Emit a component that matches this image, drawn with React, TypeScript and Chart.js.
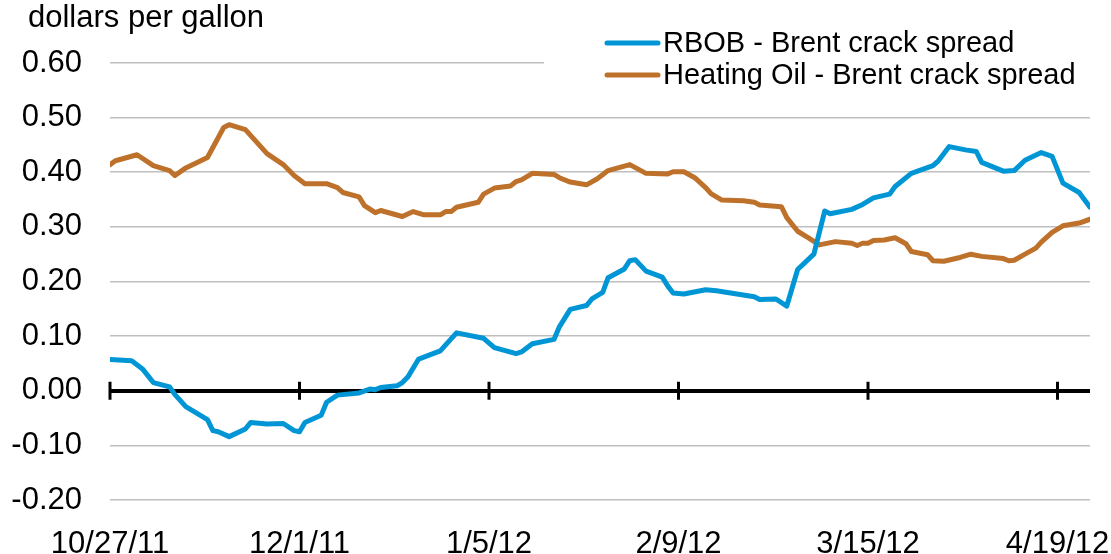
import React, { useEffect, useRef } from "react";
import { Chart, registerables } from "chart.js";

Chart.register(...registerables);

const FONT = "'Liberation Sans', Arial, Helvetica, sans-serif";

const yAxisTitle = "dollars per gallon";
const seriesNames = ["RBOB - Brent crack spread", "Heating Oil - Brent crack spread"];
const seriesColors = ["#0096D6", "#BE712B"];

// x positions are days since 10/27/11
const tickDays = [0, 35, 70, 105, 140, 175];
const tickLabels = ["10/27/11", "12/1/11", "1/5/12", "2/9/12", "3/15/12", "4/19/12"];
const lastDay = 181;

const rbobDays = [0, 4, 6, 8, 11, 12, 14, 18, 19, 20, 22, 25, 26, 29, 32, 34, 35, 36, 39, 40, 42, 46, 48, 49, 50, 53, 54, 55, 57, 61, 64, 69, 71, 75, 76, 78, 82, 83, 85, 88, 89, 91, 92, 95, 96, 97, 99, 102, 103, 104, 106, 110, 112, 119, 120, 123, 125, 127, 130, 132, 133, 137, 139, 141, 144, 145, 148, 152, 153, 155, 158, 160, 161, 165, 167, 169, 172, 174, 176, 179, 181];
const rbobValues = [0.057, 0.055, 0.040, 0.015, 0.007, -0.007, -0.029, -0.053, -0.073, -0.075, -0.084, -0.070, -0.058, -0.061, -0.060, -0.073, -0.075, -0.058, -0.045, -0.021, -0.008, -0.004, 0.003, 0.002, 0.006, 0.009, 0.015, 0.025, 0.058, 0.073, 0.106, 0.096, 0.079, 0.068, 0.071, 0.086, 0.094, 0.117, 0.149, 0.156, 0.168, 0.180, 0.207, 0.223, 0.238, 0.240, 0.219, 0.208, 0.192, 0.179, 0.177, 0.185, 0.183, 0.172, 0.167, 0.168, 0.155, 0.222, 0.250, 0.329, 0.324, 0.332, 0.341, 0.353, 0.360, 0.374, 0.398, 0.412, 0.421, 0.447, 0.441, 0.438, 0.418, 0.402, 0.403, 0.422, 0.436, 0.429, 0.380, 0.363, 0.336];

const heatDays = [0, 1, 5, 8, 11, 12, 14, 18, 21, 22, 25, 29, 32, 34, 36, 40, 42, 43, 46, 47, 49, 50, 54, 56, 58, 61, 62, 63, 64, 68, 69, 71, 74, 75, 76, 78, 82, 83, 85, 88, 90, 92, 96, 99, 103, 104, 106, 108, 110, 111, 113, 117, 119, 120, 124, 125, 127, 129, 131, 134, 137, 138, 139, 140, 141, 143, 145, 147, 148, 151, 152, 154, 157, 159, 161, 165, 166, 167, 169, 171, 172, 174, 176, 179, 181];
const heatValues = [0.414, 0.421, 0.432, 0.412, 0.403, 0.394, 0.408, 0.427, 0.482, 0.487, 0.478, 0.434, 0.414, 0.394, 0.379, 0.379, 0.372, 0.363, 0.355, 0.339, 0.326, 0.330, 0.319, 0.328, 0.322, 0.322, 0.328, 0.328, 0.336, 0.345, 0.360, 0.371, 0.375, 0.383, 0.386, 0.398, 0.396, 0.390, 0.382, 0.377, 0.388, 0.403, 0.414, 0.398, 0.397, 0.401, 0.401, 0.390, 0.372, 0.361, 0.349, 0.348, 0.345, 0.340, 0.337, 0.317, 0.292, 0.280, 0.267, 0.273, 0.270, 0.266, 0.270, 0.270, 0.275, 0.276, 0.280, 0.269, 0.255, 0.249, 0.238, 0.237, 0.244, 0.250, 0.246, 0.242, 0.238, 0.239, 0.250, 0.261, 0.272, 0.290, 0.302, 0.307, 0.314];

const yMin = -0.2;
const yMax = 0.6;
const yStep = 0.1;

const decorPlugin = {
  id: "decor",
  beforeDatasetsDraw(chart: any) {
    const { ctx, scales } = chart;
    const x = scales.x;
    const y = scales.y;
    const y0 = y.getPixelForValue(0);
    ctx.save();
    ctx.strokeStyle = "#000";
    ctx.lineWidth = 3;
    tickDays.forEach((d) => {
      const px = x.getPixelForValue(d);
      ctx.beginPath();
      ctx.moveTo(px, y0 - 9);
      ctx.lineTo(px, y0 + 9);
      ctx.stroke();
    });
    ctx.restore();
  },
  afterDraw(chart: any) {
    const { ctx } = chart;
    ctx.save();
    ctx.fillStyle = "#000";
    ctx.font = `31px ${FONT}`;
    ctx.textAlign = "left";
    ctx.textBaseline = "middle";
    ctx.fillText(yAxisTitle, 28, 18);

    ctx.fillStyle = "#fff";
    ctx.fillRect(544, 26, 567, 64);
    ctx.font = `29px ${FONT}`;
    seriesNames.forEach((name, i) => {
      const ly = 43 + i * 32;
      ctx.strokeStyle = seriesColors[i];
      ctx.lineWidth = 5;
      ctx.lineCap = "round";
      ctx.beginPath();
      ctx.moveTo(607, ly);
      ctx.lineTo(658, ly);
      ctx.stroke();
      ctx.fillStyle = "#000";
      ctx.fillText(name, 663, ly + 1);
    });
    ctx.restore();
  },
};

export default function App() {
  const ref = useRef<HTMLCanvasElement>(null);
  useEffect(() => {
    document.body.style.margin = "0";
    const canvas = ref.current;
    if (!canvas) return;
    const chart = new Chart(canvas, {
      type: "line",
      data: {
        datasets: [
          {
            label: seriesNames[0],
            data: rbobDays.map((d, i) => ({ x: d, y: rbobValues[i] })),
            borderColor: seriesColors[0],
            borderWidth: 5,
            pointRadius: 0,
            tension: 0,
            borderJoinStyle: "round",
            borderCapStyle: "round",
            fill: false,
          },
          {
            label: seriesNames[1],
            data: heatDays.map((d, i) => ({ x: d, y: heatValues[i] })),
            borderColor: seriesColors[1],
            borderWidth: 5,
            pointRadius: 0,
            tension: 0,
            borderJoinStyle: "round",
            borderCapStyle: "round",
            fill: false,
          },
        ],
      },
      options: {
        responsive: false,
        animation: false,
        layout: { padding: { left: 0, right: 21, top: 63, bottom: 0 } },
        plugins: {
          legend: { display: false },
          tooltip: { enabled: false },
          title: { display: false },
        },
        scales: {
          x: {
            type: "linear",
            min: 0,
            max: lastDay,
            afterBuildTicks: (scale: any) => {
              scale.ticks = tickDays.map((v) => ({ value: v }));
            },
            afterFit: (scale: any) => {
              scale.height = 54;
              scale.paddingLeft = 0;
              scale.paddingRight = 0;
            },
            grid: { display: false, drawTicks: false },
            border: { display: false },
            ticks: {
              autoSkip: false,
              maxRotation: 0,
              padding: 26,
              color: "#000",
              font: { family: FONT, size: 31 },
              callback: (v: any) => {
                const idx = tickDays.indexOf(Number(v));
                return idx >= 0 ? tickLabels[idx] : "";
              },
            },
          },
          y: {
            type: "linear",
            min: yMin,
            max: yMax,
            afterFit: (scale: any) => {
              scale.width = 110;
              scale.paddingTop = 0;
              scale.paddingBottom = 0;
            },
            grid: {
              drawTicks: false,
              color: (c: any) => (c.tick && Math.abs(c.tick.value) < 1e-9 ? "#000" : "#BFBFBF"),
              lineWidth: (c: any) => (c.tick && Math.abs(c.tick.value) < 1e-9 ? 4 : 1.5),
            },
            border: { display: false },
            ticks: {
              stepSize: yStep,
              padding: 28,
              color: "#000",
              font: { family: FONT, size: 31 },
              callback: (v: any) => {
                const n = Number(v);
                return (Math.abs(n) < 1e-9 ? 0 : n).toFixed(2);
              },
            },
          },
        },
      },
      plugins: [decorPlugin],
    });
    return () => chart.destroy();
  }, []);
  return (
    <div style={{ position: "absolute", left: 0, top: 0, width: 1111, height: 554, background: "#fff" }}>
      <canvas ref={ref} width={1111} height={554} style={{ display: "block" }} />
    </div>
  );
}
